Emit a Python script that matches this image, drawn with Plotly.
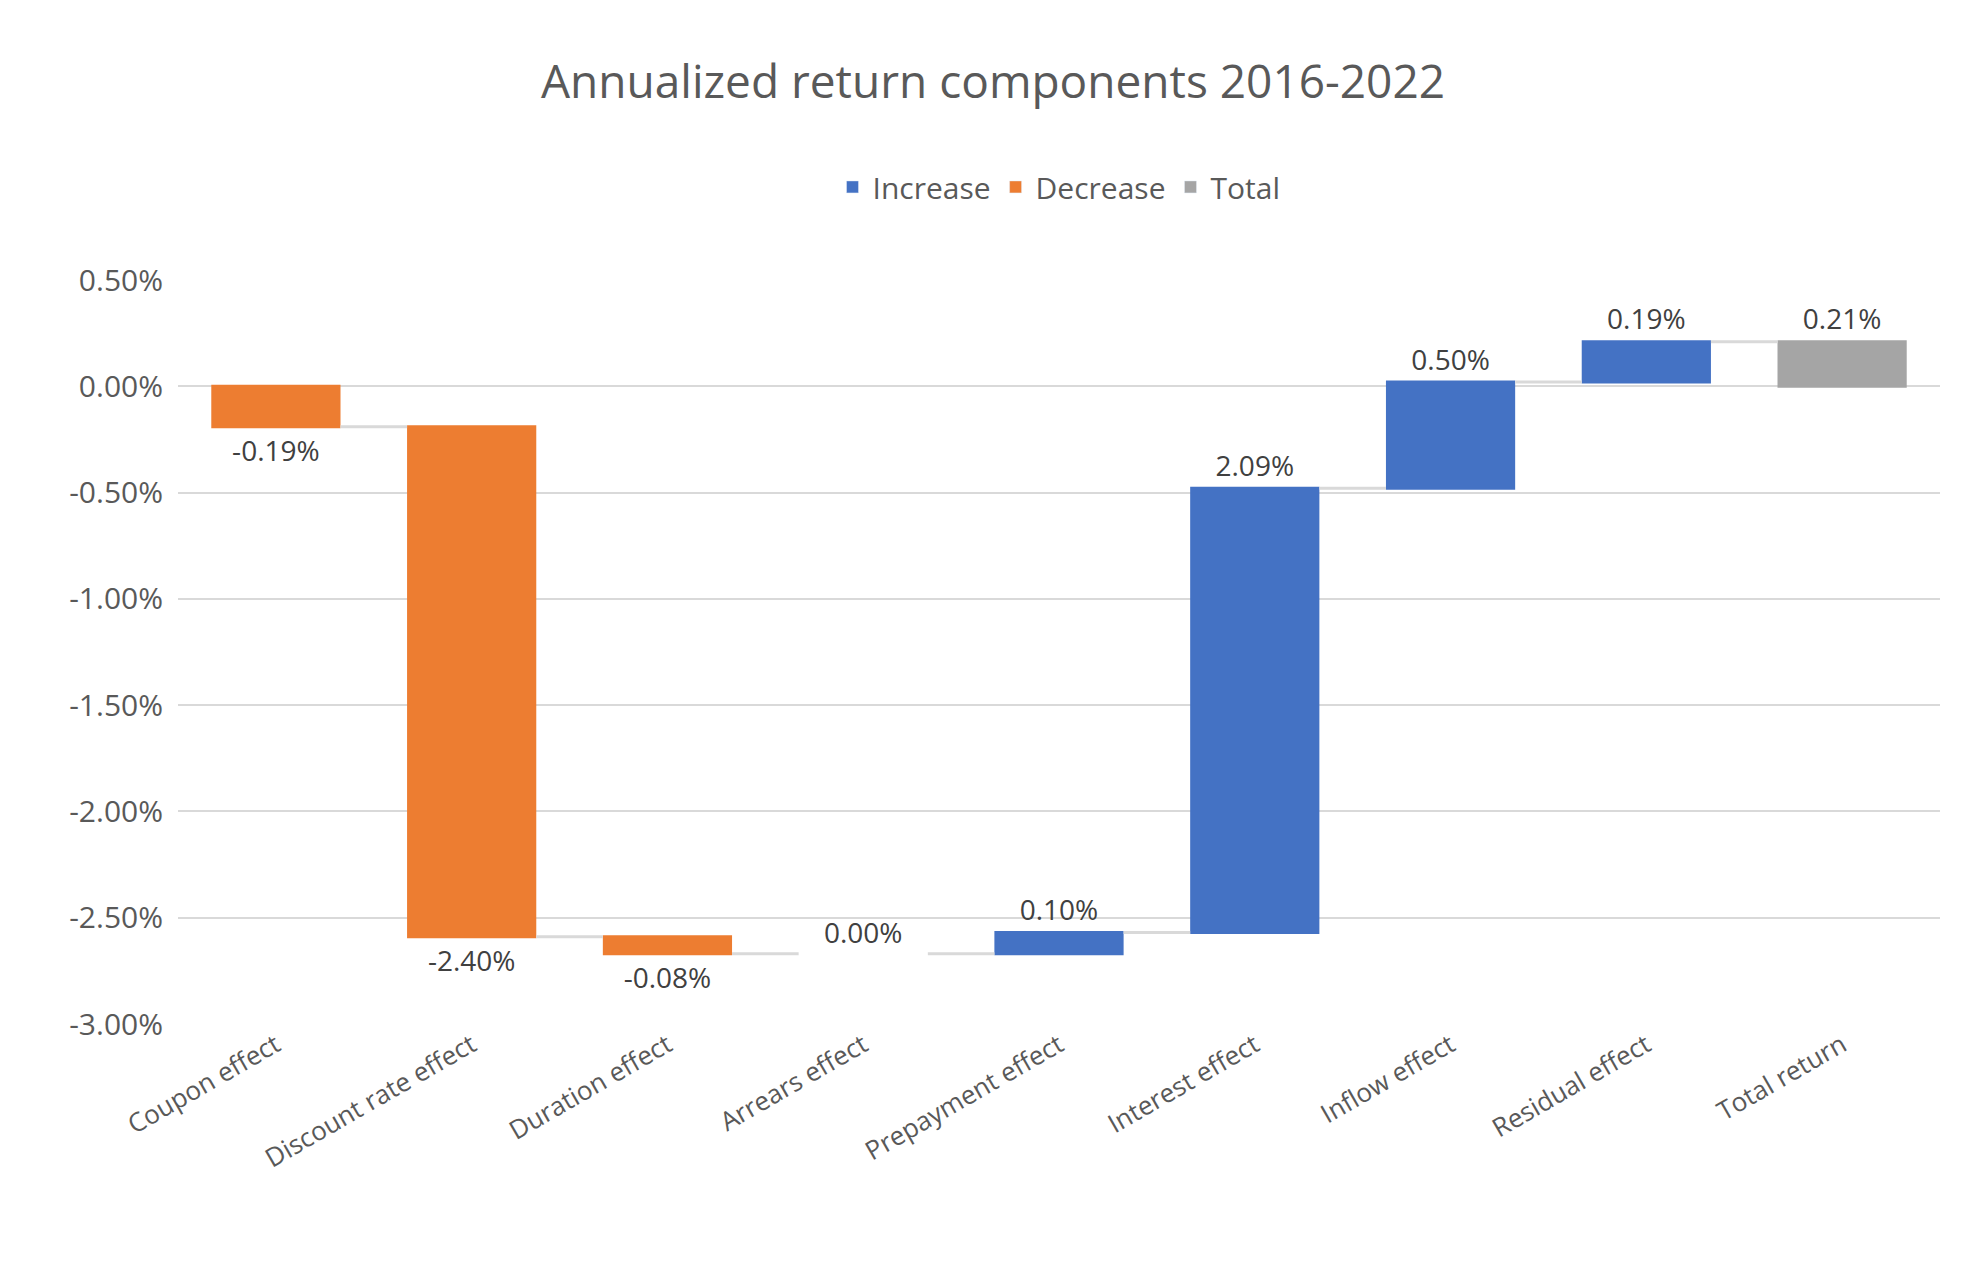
import plotly.graph_objects as go

categories = ["Coupon effect", "Discount rate effect", "Duration effect", "Arrears effect",
              "Prepayment effect", "Interest effect", "Inflow effect", "Residual effect", "Total return"]
values = [-0.19, -2.40, -0.08, 0.00, 0.10, 2.09, 0.50, 0.19, 0.21]
measures = ["relative"] * 8 + ["total"]
labels = [f"{v:.2f}%" for v in values]
tick_vals = [0.5, 0.0, -0.5, -1.0, -1.5, -2.0, -2.5, -3.0]
tick_text = [f"{v:.2f}%" for v in tick_vals]

INC, DEC, TOT = "#4472C4", "#ED7D31", "#A5A5A5"
FONT = "Open Sans"
fig = go.Figure()
fig.add_trace(go.Waterfall(
    x=categories, y=values, measure=measures, text=labels, textposition="outside",
    textfont=dict(size=28, color="#404040", family=FONT),
    increasing=dict(marker=dict(color=INC)), decreasing=dict(marker=dict(color=DEC)),
    totals=dict(marker=dict(color=TOT)),
    connector=dict(line=dict(color="#D9D9D9", width=3)),
    showlegend=False, cliponaxis=False, width=0.66))
for name, c in [("Increase", INC), ("Decrease", DEC), ("Total", TOT)]:
    fig.add_trace(go.Bar(x=[None], y=[None], name=name, marker_color=c))

fig.update_layout(
    width=1970, height=1278, plot_bgcolor="white", paper_bgcolor="white",
    font=dict(family=FONT, color="#595959"),
    title=dict(text="Annualized return components 2016-2022", x=0.5, y=0.955,
               font=dict(size=46, color="#595959")),
    legend=dict(orientation="h", x=0.5, xanchor="center", yref="container", y=0.86,
                yanchor="middle", font=dict(size=30, color="#595959")),
    margin=dict(l=170, r=38, t=272, b=262),
    yaxis=dict(range=[-3.0, 0.5], tickvals=tick_vals, ticktext=tick_text,
               gridcolor="#D9D9D9", gridwidth=2, zeroline=False,
               tickfont=dict(size=30, color="#595959"), ticklen=8, ticks="outside", tickcolor="white"),
    xaxis=dict(tickangle=-30, tickfont=dict(size=26, color="#595959"), showline=False),
)
fig.write_html("out.html")
